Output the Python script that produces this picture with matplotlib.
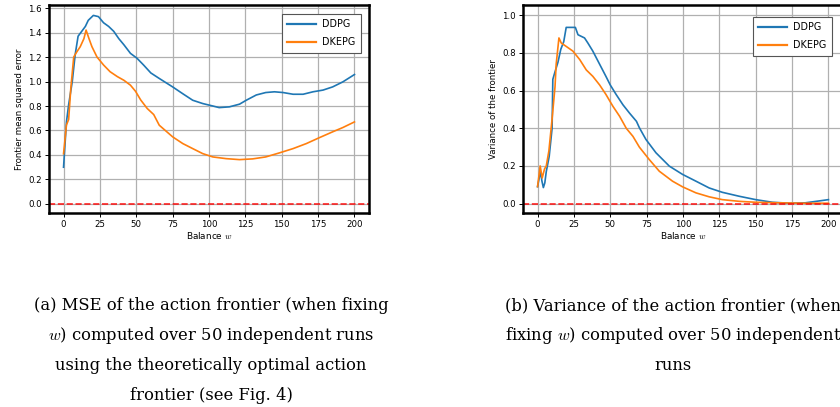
import matplotlib
matplotlib.use('Agg')
import matplotlib.pyplot as plt

plt.rcParams['mathtext.fontset'] = 'cm'

# (a) MSE of the action frontier
mse_w_ddpg = [0, 2, 3.5, 6, 8, 10, 12.5, 15, 17, 20.5, 24, 27.5, 31, 34.5, 38, 41.5,
              46, 50.5, 55, 60, 65.8, 75, 82, 88.8, 95.7, 102.6, 107, 114, 121,
              125.6, 132.5, 139, 145, 150.9, 157.8, 164.7, 171.5, 178.4, 185, 192, 200]
mse_ddpg = [0.30, 0.67, 0.81, 1.00, 1.22, 1.37, 1.41, 1.45, 1.50, 1.54, 1.53, 1.48,
            1.45, 1.41, 1.35, 1.30, 1.23, 1.19, 1.135, 1.07, 1.025, 0.956, 0.90,
            0.847, 0.82, 0.80, 0.787, 0.793, 0.815, 0.847, 0.89, 0.91, 0.916, 0.91,
            0.896, 0.896, 0.916, 0.93, 0.956, 0.997, 1.057]
mse_w_dkepg = [0, 2, 3.5, 5, 7, 9, 11.5, 14, 15.5, 17.5, 19.5, 23, 27.5, 32, 37,
               41.5, 46, 49.5, 53, 57.5, 62, 65.8, 75, 82, 88.8, 95.7, 102.6, 111.8,
               121, 130, 139, 148.4, 157.8, 166.9, 176, 185, 192, 200]
mse_dkepg = [0.41, 0.645, 0.69, 0.945, 1.20, 1.24, 1.285, 1.35, 1.42, 1.35, 1.285,
             1.20, 1.135, 1.08, 1.04, 1.01, 0.97, 0.92, 0.85, 0.78, 0.73, 0.643,
             0.548, 0.493, 0.452, 0.411, 0.384, 0.37, 0.362, 0.368, 0.384, 0.417,
             0.452, 0.493, 0.542, 0.589, 0.624, 0.67]

# (b) variance of the action frontier
var_w_ddpg = [0, 1, 2, 3, 4, 5, 6, 8, 10, 10.5, 12, 14, 16, 18, 19.7, 26, 27.8, 32.3,
              34.6, 38, 42.7, 47, 50, 54, 58.7, 63.3, 68, 70, 74.5, 81.4, 90.6, 99.7,
              108.9, 118, 127, 138.6, 150, 161.5, 173, 184, 193.5, 200]
var_ddpg = [0.09, 0.13, 0.17, 0.12, 0.085, 0.11, 0.17, 0.25, 0.40, 0.66, 0.70, 0.75,
            0.82, 0.86, 0.936, 0.936, 0.897, 0.88, 0.853, 0.81, 0.74, 0.676, 0.63,
            0.58, 0.525, 0.48, 0.437, 0.403, 0.341, 0.27, 0.199, 0.155, 0.119, 0.083,
            0.06, 0.039, 0.021, 0.007, 0.002, 0.004, 0.014, 0.021]
var_w_dkepg = [0, 1, 1.8, 3.2, 4.8, 6, 7.8, 10, 12, 12.8, 14.7, 16.3, 19.7, 24.3, 29,
               33.5, 38, 42.7, 47, 51.8, 56.4, 61, 65.6, 70, 76.8, 83.7, 92.8, 99.7,
               108.9, 118, 127, 138.6, 150, 166, 184, 200]
var_dkepg = [0.09, 0.15, 0.20, 0.136, 0.184, 0.20, 0.28, 0.45, 0.62, 0.74, 0.88,
             0.853, 0.835, 0.81, 0.765, 0.71, 0.676, 0.63, 0.58, 0.517, 0.464, 0.40,
             0.357, 0.30, 0.234, 0.172, 0.119, 0.089, 0.057, 0.036, 0.021, 0.012,
             0.007, 0.004, 0.002, 0.002]

x_ticks = [0, 25, 50, 75, 100, 125, 150, 175, 200]

caption_a = ["(a) MSE of the action frontier (when fixing",
             "$w$) computed over 50 independent runs",
             "using the theoretically optimal action",
             "frontier (see Fig. 4)"]
caption_b = ["(b) Variance of the action frontier (when",
             "fixing $w$) computed over 50 independent",
             "runs"]

W, H = 840, 407
fig = plt.figure(figsize=(W / 100, H / 100), dpi=100)
ax1 = fig.add_axes([49 / W, 1 - 213 / H, 320 / W, 208 / H])
ax2 = fig.add_axes([523 / W, 1 - 213 / H, 320 / W, 208 / H])

panels = [
    (ax1, mse_w_ddpg, mse_ddpg, mse_w_dkepg, mse_dkepg,
     'Frontier mean squared error', (-0.074, 1.625), (361, 14)),
    (ax2, var_w_ddpg, var_ddpg, var_w_dkepg, var_dkepg,
     'Variance of the frontier', (-0.05, 1.055), (832, 17)),
]

for ax, wb, yb, wo, yo, ylab, ylim, legpos in panels:
    ax.plot(wb, yb, color='#1f77b4', lw=1.2, label='DDPG')
    ax.plot(wo, yo, color='#ff7f0e', lw=1.2, label='DKEPG')
    ax.axhline(0, color='red', ls='--', lw=1.2, alpha=0.85)
    ax.set_xlim(-10, 210)
    ax.set_ylim(*ylim)
    ax.set_xticks(x_ticks)
    ax.grid(True, color='#b0b0b0', lw=0.9)
    ax.tick_params(labelsize=6.2, length=3, width=0.7, pad=2)
    ax.set_xlabel('Balance $w$', fontsize=6.4, labelpad=1)
    ax.set_ylabel(ylab, fontsize=6.2, labelpad=3)
    for sp in ax.spines.values():
        sp.set_linewidth(1.8)
        sp.set_color('black')
    leg = ax.legend(loc='upper right', fontsize=6.9, fancybox=False,
                    handlelength=3.0, handletextpad=0.7, labelspacing=0.85,
                    borderpad=0.55, borderaxespad=0,
                    bbox_to_anchor=(legpos[0] / W, 1 - legpos[1] / H),
                    bbox_transform=fig.transFigure,
                    edgecolor='#555555', framealpha=1)
    leg.get_frame().set_linewidth(0.8)
    for line in leg.get_lines():
        line.set_linewidth(1.6)

# captions, one text per line, baselines 30 px apart
for cx, lines in [(211, caption_a), (673, caption_b)]:
    for i, s in enumerate(lines):
        fig.text(cx / W, 1 - (310 + 30 * i) / H, s, ha='center', va='baseline',
                 family='DejaVu Serif', fontsize=11.8)

fig.savefig('out.png', dpi=100)
